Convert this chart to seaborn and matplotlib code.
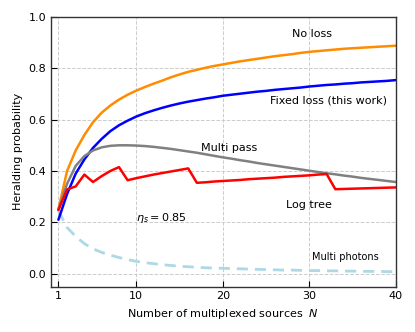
import matplotlib
matplotlib.use("Agg")
import matplotlib.pyplot as plt
import seaborn as sns
import pandas as pd

# Number of multiplexed sources
n_sources = list(range(1, 41))

no_loss = [0.25, 0.40, 0.48, 0.54, 0.59, 0.627, 0.655, 0.678, 0.697, 0.713,
           0.727, 0.740, 0.752, 0.765, 0.776, 0.786, 0.794, 0.802, 0.809, 0.815,
           0.821, 0.827, 0.832, 0.837, 0.842, 0.847, 0.851, 0.855, 0.860, 0.864,
           0.867, 0.870, 0.873, 0.876, 0.878, 0.880, 0.882, 0.884, 0.886, 0.888]

fixed_loss = [0.21, 0.31, 0.39, 0.445, 0.49, 0.525, 0.555, 0.578, 0.596, 0.612,
              0.625, 0.636, 0.646, 0.655, 0.663, 0.670, 0.676, 0.682, 0.687, 0.693,
              0.697, 0.701, 0.705, 0.709, 0.712, 0.716, 0.719, 0.722, 0.725, 0.729,
              0.732, 0.735, 0.737, 0.740, 0.742, 0.745, 0.747, 0.749, 0.751, 0.754]

multi_pass = [0.25, 0.35, 0.42, 0.458, 0.48, 0.492, 0.498, 0.50, 0.50, 0.499,
              0.497, 0.494, 0.490, 0.486, 0.481, 0.476, 0.471, 0.465, 0.459, 0.453,
              0.448, 0.442, 0.437, 0.431, 0.426, 0.421, 0.416, 0.411, 0.406, 0.401,
              0.396, 0.391, 0.387, 0.382, 0.378, 0.373, 0.369, 0.365, 0.361, 0.357]

log_tree = [0.248, 0.328, 0.340, 0.386, 0.357, 0.380, 0.400, 0.415, 0.364, 0.372,
            0.379, 0.386, 0.392, 0.398, 0.404, 0.410, 0.354, 0.356, 0.359, 0.361,
            0.363, 0.365, 0.368, 0.370, 0.372, 0.374, 0.377, 0.379, 0.381, 0.383,
            0.386, 0.388, 0.329, 0.330, 0.331, 0.332, 0.333, 0.334, 0.335, 0.336]

multi_photons = [0.245, 0.18, 0.145, 0.117, 0.097, 0.083, 0.072, 0.063, 0.055, 0.048,
                 0.043, 0.039, 0.035, 0.032, 0.029, 0.027, 0.025, 0.023, 0.022, 0.021,
                 0.020, 0.019, 0.018, 0.017, 0.016, 0.015, 0.014, 0.014, 0.013, 0.012,
                 0.012, 0.011, 0.011, 0.010, 0.010, 0.009, 0.009, 0.009, 0.008, 0.008]

df = pd.DataFrame({
    "N": n_sources,
    "no_loss": no_loss,
    "fixed_loss": fixed_loss,
    "multi_pass": multi_pass,
    "log_tree": log_tree,
    "multi_photons": multi_photons,
})

sns.set_style("ticks")
plt.rcParams["font.family"] = ["DejaVu Sans"]
plt.rcParams["text.color"] = "black"
plt.rcParams["axes.labelcolor"] = "black"
plt.rcParams["xtick.color"] = "black"
plt.rcParams["ytick.color"] = "black"

fig = plt.figure(figsize=(4.15, 3.32), dpi=100)
ax = fig.add_axes([0.123, 0.137, 0.831, 0.812])

sns.lineplot(data=df, x="N", y="multi_photons", ax=ax, color="lightblue",
             linewidth=2, linestyle=(0, (4, 2.5)))
sns.lineplot(data=df, x="N", y="no_loss", ax=ax, color="darkorange", linewidth=1.8)
sns.lineplot(data=df, x="N", y="fixed_loss", ax=ax, color="blue", linewidth=1.8)
sns.lineplot(data=df, x="N", y="multi_pass", ax=ax, color="gray", linewidth=1.8)
sns.lineplot(data=df, x="N", y="log_tree", ax=ax, color="red", linewidth=1.8)

# Labels on curves
ax.text(30.3, 0.934, "No loss", fontsize=8, ha="center", va="center")
ax.text(32.2, 0.674, "Fixed loss (this work)", fontsize=8, ha="center", va="center")
ax.text(20.7, 0.49, "Multi pass", fontsize=8, ha="center", va="center")
ax.text(29.9, 0.267, "Log tree", fontsize=8, ha="center", va="center")
ax.text(10.0, 0.217, r"$\eta_s = 0.85$", fontsize=8, ha="left", va="center")
ax.text(34.2, 0.065, "Multi photons", fontsize=7, ha="center", va="center")

ax.set_xlim(0.15, 40)
ax.set_ylim(-0.05, 1.0)
ax.set_xticks([1, 10, 20, 30, 40])
ax.set_yticks([0.0, 0.2, 0.4, 0.6, 0.8, 1.0])
ax.set_xlabel("Number of multiplexed sources  $N$", fontsize=8)
ax.set_ylabel("Heralding probability", fontsize=8)
ax.tick_params(direction="in", length=4, labelsize=8, width=0.8)
ax.grid(True, linestyle="--", color="#cccccc", linewidth=0.7)
for s in ax.spines.values():
    s.set_color("#333333")
    s.set_linewidth(1.0)

fig.savefig("out.png", dpi=100)
